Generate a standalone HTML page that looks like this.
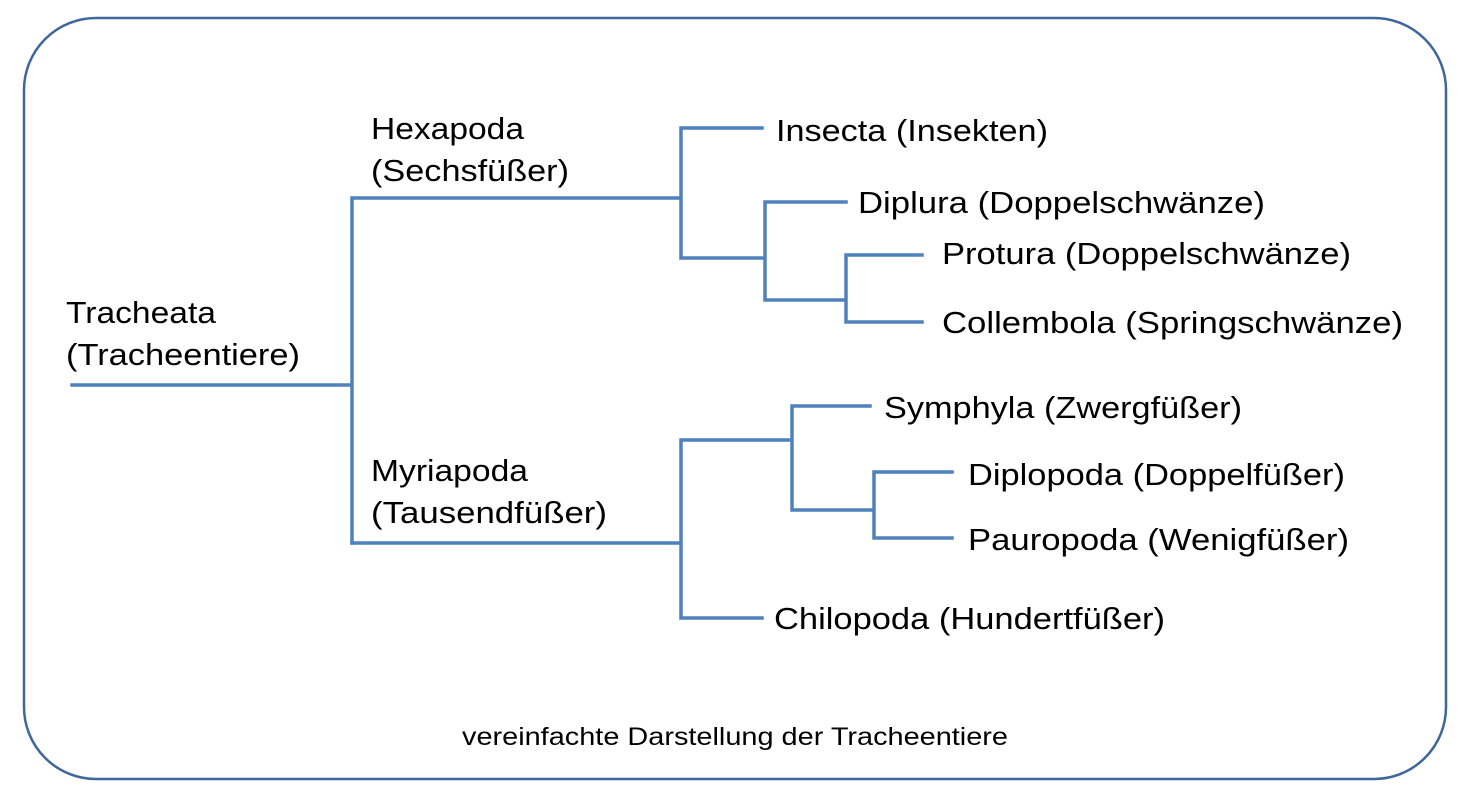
<!DOCTYPE html>
<html><head><meta charset="utf-8"><style>body{margin:0;background:#fff}svg{display:block}</style></head><body>
<svg width="1469" height="796" xmlns="http://www.w3.org/2000/svg" font-family="Liberation Sans, Arial, sans-serif" font-size="31" fill="#000">
<rect x="24" y="18" width="1422" height="761" rx="72" ry="72" fill="none" stroke="#3f679b" stroke-width="2.5"/>
<g stroke="#4f81bd" stroke-width="3.5" fill="none" stroke-linecap="square">
<path d="M72 385H352M352 198V543M352 198H681M681 128V258M681 128H762M681 258H765M765 202V300M765 202H846M765 300H846M846 255V322M846 255H922M846 322H922"/>
<path d="M352 543H681M681 440V618M681 440H792M792 406V510M792 406H870M792 510H874M874 472V538M874 472H952M874 538H952M681 618H762"/>
</g>
<g lengthAdjust="spacingAndGlyphs">
<text x="66" y="323" textLength="150" lengthAdjust="spacingAndGlyphs">Tracheata</text>
<text x="66" y="365" textLength="234" lengthAdjust="spacingAndGlyphs">(Tracheentiere)</text>
<text x="371" y="139" textLength="153" lengthAdjust="spacingAndGlyphs">Hexapoda</text>
<text x="371" y="181" textLength="198" lengthAdjust="spacingAndGlyphs">(Sechsfüßer)</text>
<text x="371" y="481" textLength="157" lengthAdjust="spacingAndGlyphs">Myriapoda</text>
<text x="371" y="523" textLength="236" lengthAdjust="spacingAndGlyphs">(Tausendfüßer)</text>
<text x="776" y="141" textLength="272" lengthAdjust="spacingAndGlyphs">Insecta (Insekten)</text>
<text x="858" y="213" textLength="407" lengthAdjust="spacingAndGlyphs">Diplura (Doppelschwänze)</text>
<text x="942" y="264" textLength="409" lengthAdjust="spacingAndGlyphs">Protura (Doppelschwänze)</text>
<text x="942" y="333" textLength="461" lengthAdjust="spacingAndGlyphs">Collembola (Springschwänze)</text>
<text x="884" y="418" textLength="358" lengthAdjust="spacingAndGlyphs">Symphyla (Zwergfüßer)</text>
<text x="968" y="485" textLength="377" lengthAdjust="spacingAndGlyphs">Diplopoda (Doppelfüßer)</text>
<text x="968" y="550" textLength="381" lengthAdjust="spacingAndGlyphs">Pauropoda (Wenigfüßer)</text>
<text x="774" y="629" textLength="391" lengthAdjust="spacingAndGlyphs">Chilopoda (Hundertfüßer)</text>
<text x="462" y="745" font-size="25" textLength="546" lengthAdjust="spacingAndGlyphs">vereinfachte Darstellung der Tracheentiere</text>
</g>
</svg>
</body></html>
